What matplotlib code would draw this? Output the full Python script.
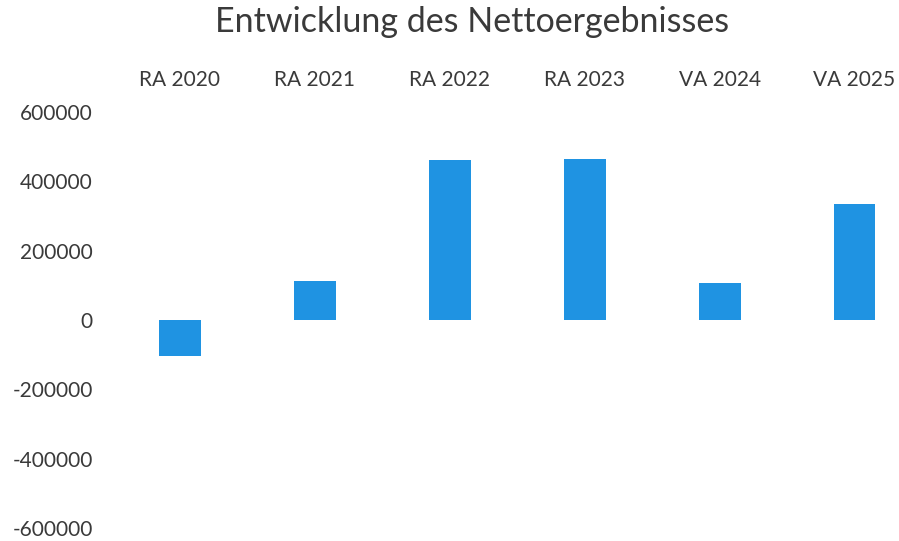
import numpy as np
import matplotlib.pyplot as plt

# Daten
kategorien = ['RA 2020', 'RA 2021', 'RA 2022', 'RA 2023', 'VA 2024', 'VA 2025']
nettoergebnis = [-105000, 112000, 462000, 464000, 106000, 334000]
y_ticks = [-600000, -400000, -200000, 0, 200000, 400000, 600000]

plt.rcParams['font.family'] = ['Lato', 'DejaVu Sans']
textfarbe = '#3a3a3a'

fig = plt.figure(figsize=(8.99, 5.41), dpi=100)
ax = fig.add_axes([126 / 899, 13 / 541, (895 - 126) / 899, (528 - 112) / 541])

x = np.arange(len(kategorien))
ax.bar(x, nettoergebnis, width=0.31, color='#1f93e2')

ax.set_xlim(-0.4, 5.3)
ax.set_ylim(-600000, 600000)
ax.set_yticks(y_ticks)
ax.set_yticklabels([str(v) for v in y_ticks])

# Kategorien oben anzeigen
ax.xaxis.tick_top()
ax.set_xticks(x)
ax.set_xticklabels(kategorien)

ax.tick_params(axis='y', length=0, pad=24, labelsize=15, labelcolor=textfarbe)
ax.tick_params(axis='x', length=0, pad=16, labelsize=15, labelcolor=textfarbe)

for s in ax.spines.values():
	s.set_visible(False)

fig.text(472 / 899, 1 - 22 / 541, 'Entwicklung des Nettoergebnisses',
	ha='center', va='center', fontsize=24.5, color=textfarbe)

plt.savefig('out.png', dpi=100)
